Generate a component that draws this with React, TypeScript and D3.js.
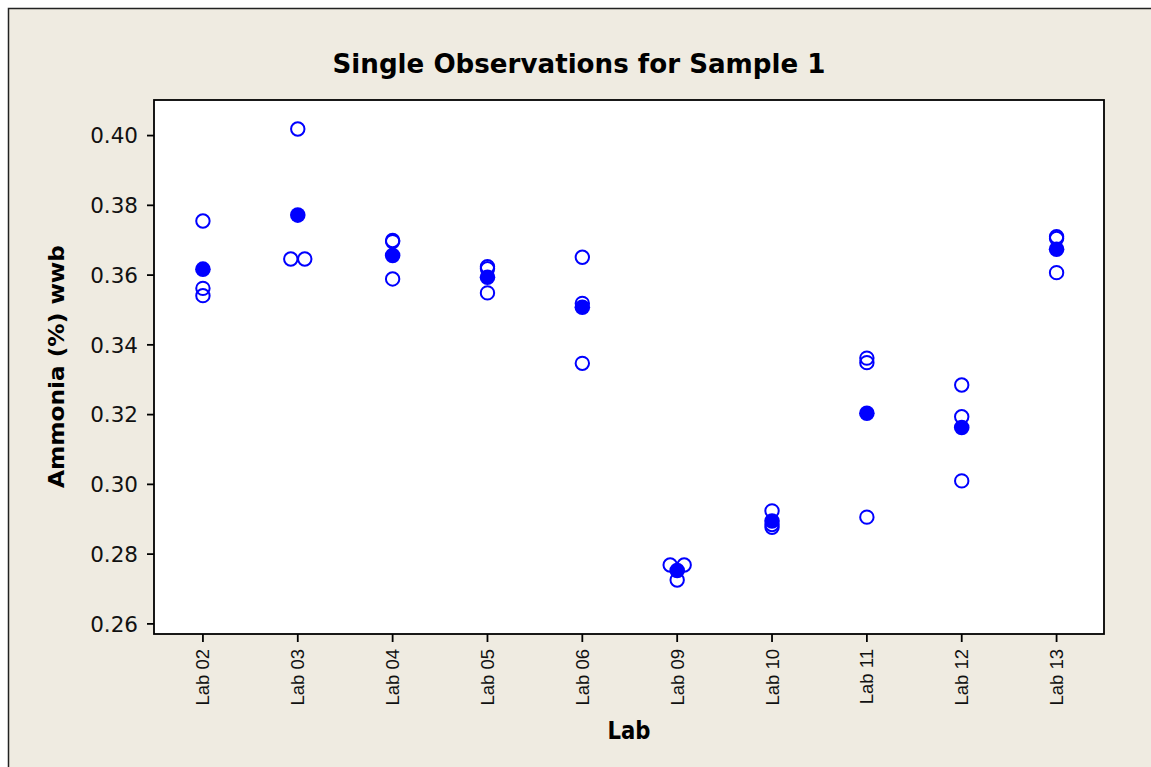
import React from 'react';
import * as d3 from 'd3';

// lab names on the x axis
const labs = ['Lab 02', 'Lab 03', 'Lab 04', 'Lab 05', 'Lab 06', 'Lab 09', 'Lab 10', 'Lab 11', 'Lab 12', 'Lab 13'];

const rep1 = [0.3755, 0.4019, 0.3699, 0.3624, 0.3651, 0.2769, 0.2924, 0.3362, 0.3285, 0.3710];
const rep2 = [0.3562, 0.3646, 0.3696, 0.3618, 0.3519, 0.2769, 0.2885, 0.3349, 0.3194, 0.3705];
const rep3 = [0.3541, 0.3646, 0.3589, 0.3549, 0.3347, 0.2726, 0.2877, 0.2906, 0.3010, 0.3607];

// lab means (filled dots)
const labMeans = [0.3617, 0.3772, 0.3656, 0.3594, 0.3508, 0.2753, 0.2895, 0.3204, 0.3163, 0.3674];

const yTicks = [0.26, 0.28, 0.30, 0.32, 0.34, 0.36, 0.38, 0.40];

const W = 1151;
const H = 767;
const plot = { left: 154, top: 100, right: 1104, bottom: 634 };
const blue = '#0000ff';

const App = () => {
  const x = d3.scalePoint<string>().domain(labs).range([plot.left + 1.5, plot.right]).padding(0.5);
  const y = d3.scaleLinear().domain([0.2571, 0.4102]).range([plot.bottom, plot.top]);

  // spread identical values side by side, like the original
  const points: { lab: string; v: number; dx: number }[] = [];
  labs.forEach((lab, i) => {
    const vals = [rep1[i], rep2[i], rep3[i]];
    const groups = d3.group(vals, v => v);
    groups.forEach((arr, v) => {
      arr.forEach((_, k) => {
        const dx = (k - (arr.length - 1) / 2) * 14;
        points.push({ lab, v, dx });
      });
    });
  });

  return (
    <>
      <style>{`html,body{overflow:hidden;margin:0}`}</style>
      <svg width={W} height={H} style={{ position: 'absolute', left: 0, top: 0, display: 'block' }}>
        <rect x={0} y={0} width={W} height={H} fill="#ffffff" />
        <rect x={8.5} y={8.5} width={W + 20} height={H + 20} fill="#efebe1" stroke="#222" strokeWidth={1.5} />

        <text x={579} y={73} textAnchor="middle" fontFamily="DejaVu Sans" fontWeight="bold" fontSize={27}
          textLength={493} lengthAdjust="spacingAndGlyphs" fill="#000">
          Single Observations for Sample 1
        </text>

        <rect x={plot.left} y={plot.top} width={plot.right - plot.left} height={plot.bottom - plot.top}
          fill="#ffffff" stroke="#000" strokeWidth={1.8} />

        {yTicks.map(t => (
          <g key={t} transform={`translate(0,${y(t)})`}>
            <line x1={plot.left - 7} x2={plot.left} stroke="#000" strokeWidth={1.8} />
            <text x={138} dy="0.36em" textAnchor="end" fontFamily="DejaVu Sans" fontSize={21.5} fill="#111">
              {d3.format('.2f')(t)}
            </text>
          </g>
        ))}

        {labs.map(lab => (
          <g key={lab}>
            <line x1={x(lab)} x2={x(lab)} y1={plot.bottom} y2={plot.bottom + 8} stroke="#000" strokeWidth={1.8} />
            <text transform={`translate(${(x(lab) as number) + 6.5},649) rotate(-90)`} textAnchor="end"
              fontFamily="Liberation Sans" fontSize={18.5} fill="#111">
              {lab}
            </text>
          </g>
        ))}

        <text transform="translate(63.5,366.5) rotate(-90)" textAnchor="middle" fontFamily="DejaVu Sans"
          fontWeight="bold" fontSize={22} textLength={243} lengthAdjust="spacingAndGlyphs" fill="#000">
          Ammonia (%) wwb
        </text>
        <text x={629} y={739} textAnchor="middle" fontFamily="DejaVu Sans" fontWeight="bold" fontSize={24}
          textLength={43} lengthAdjust="spacingAndGlyphs" fill="#000">
          Lab
        </text>

        {points.map((p, i) => (
          <circle key={i} cx={(x(p.lab) as number) + p.dx} cy={y(p.v)} r={6.7} fill="none" stroke={blue} strokeWidth={2} />
        ))}
        {labs.map((lab, i) => (
          <circle key={lab} cx={x(lab)} cy={y(labMeans[i])} r={7.8} fill={blue} />
        ))}
      </svg>
    </>
  );
};

export default App;
